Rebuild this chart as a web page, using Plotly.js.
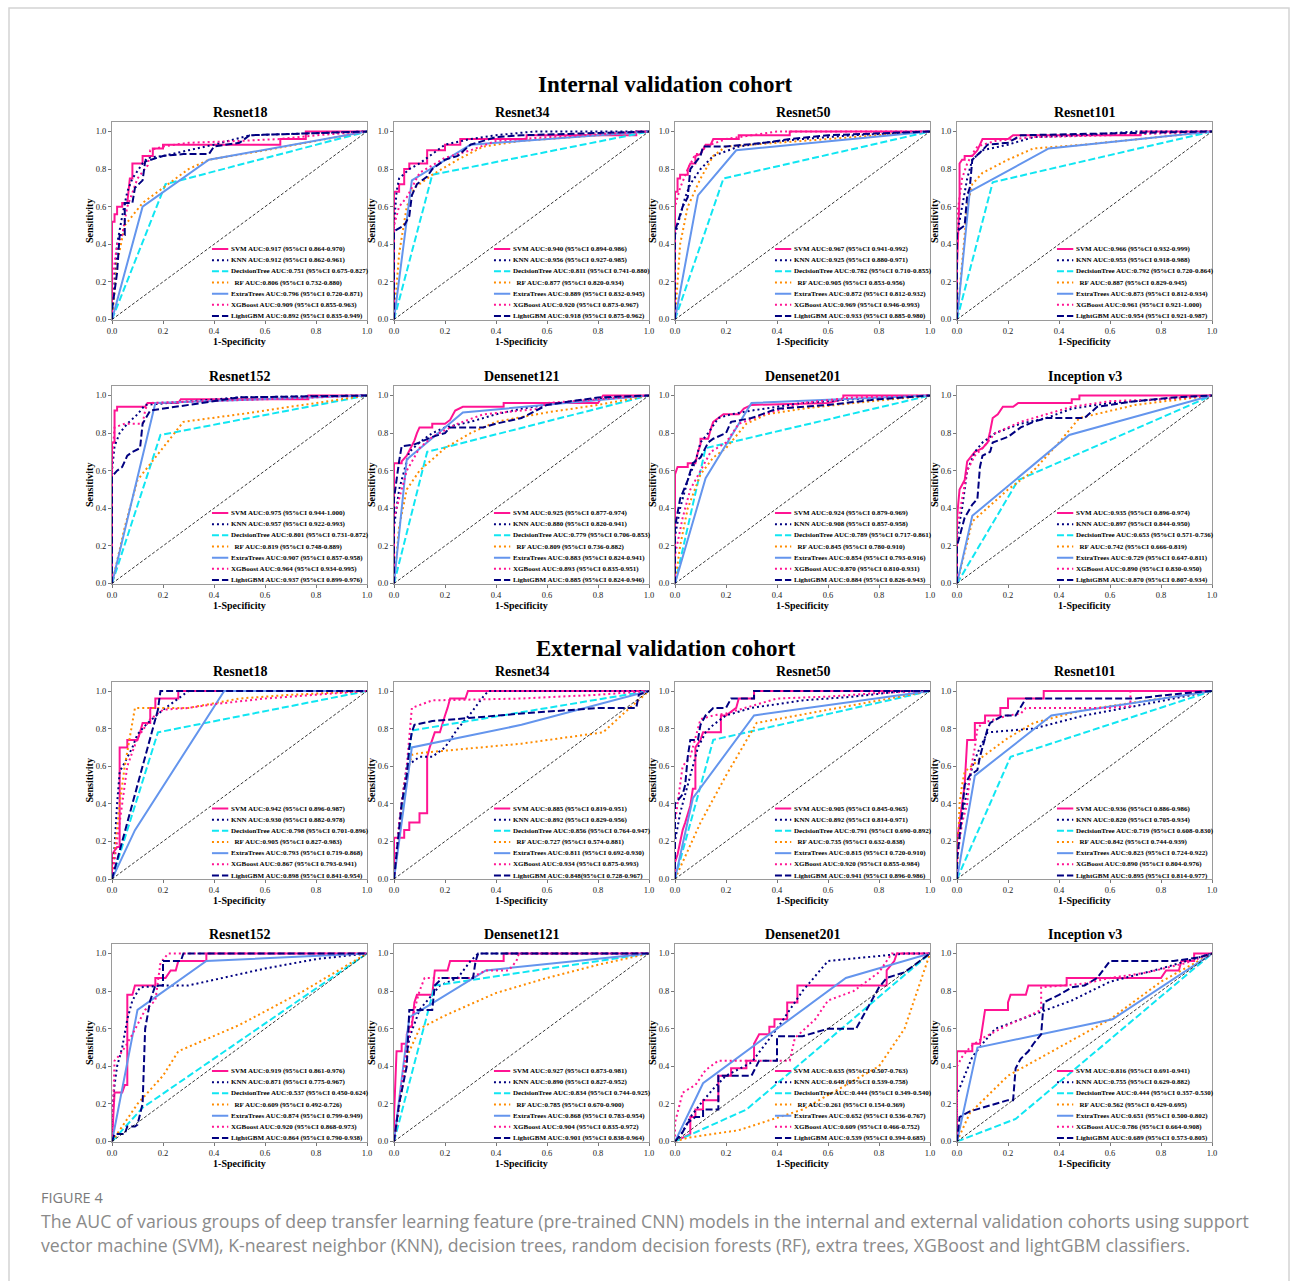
<!DOCTYPE html>
<html>
<head>
<meta charset="utf-8">
<script src="https://cdn.plot.ly/plotly-3.0.1.min.js"></script>
<style>html,body{margin:0;padding:0;background:#fff;}#chart{width:1295px;height:1281px;}</style>
</head>
<body>
<div id="chart"></div>
<script>
// ---------------- DATA ----------------
const CLASSIFIERS = ['SVM', 'KNN', 'DecisionTree', 'RF', 'ExtraTrees', 'XGBoost', 'LightGBM'];
const MODELS = ['Resnet18', 'Resnet34', 'Resnet50', 'Resnet101', 'Resnet152', 'Densenet121', 'Densenet201', 'Inception v3'];
const COHORTS = ['Internal validation cohort', 'External validation cohort'];
const TICKS = [0, 0.2, 0.4, 0.6, 0.8, 1.0];
const DIAG = [0, 1];

// ROC points [1-specificity, sensitivity], one list per classifier (order of CLASSIFIERS)
const IN_RESNET18 = [
  [[0,0],[0,0.52],[0.01,0.52],[0.01,0.56],[0.02,0.56],[0.02,0.6],[0.04,0.6],[0.04,0.62],[0.06,0.62],[0.07,0.75],[0.08,0.75],[0.08,0.83],[0.12,0.83],[0.12,0.87],[0.16,0.87],[0.16,0.91],[0.2,0.91],[0.2,0.93],[0.66,0.93],[0.66,0.96],[0.76,0.96],[0.76,1],[1,1]],
  [[0,0],[0.02,0.4],[0.04,0.55],[0.06,0.68],[0.08,0.75],[0.12,0.83],[0.14,0.86],[0.2,0.87],[0.3,0.9],[0.4,0.93],[0.54,0.98],[0.76,0.99],[1,1]],
  [[0,0],[0.21,0.72],[1,1]],
  [[0,0],[0.02,0.3],[0.05,0.5],[0.12,0.62],[0.2,0.7],[0.3,0.8],[0.38,0.85],[0.6,0.9],[1,1]],
  [[0,0],[0.12,0.6],[0.38,0.85],[1,1]],
  [[0,0],[0,0.2],[0.02,0.4],[0.04,0.45],[0.06,0.6],[0.1,0.75],[0.14,0.82],[0.15,0.9],[0.2,0.92],[0.3,0.94],[0.5,0.95],[0.66,0.96],[0.8,0.98],[1,1]],
  [[0,0],[0,0.05],[0.02,0.25],[0.03,0.45],[0.05,0.45],[0.05,0.62],[0.08,0.62],[0.09,0.7],[0.12,0.74],[0.13,0.84],[0.2,0.87],[0.28,0.88],[0.38,0.88],[0.4,0.92],[0.5,0.94],[0.54,0.98],[1,1]]
];
const IN_RESNET34 = [
  [[0,0],[0,0.68],[0.02,0.68],[0.02,0.72],[0.04,0.72],[0.04,0.8],[0.06,0.8],[0.06,0.83],[0.13,0.83],[0.13,0.9],[0.2,0.9],[0.2,0.93],[0.26,0.93],[0.26,0.96],[0.52,0.96],[0.52,0.98],[0.95,0.98],[0.95,1],[1,1]],
  [[0,0],[0,0.5],[0.01,0.68],[0.02,0.75],[0.06,0.8],[0.1,0.83],[0.15,0.88],[0.2,0.93],[0.3,0.96],[0.4,0.98],[0.55,1],[1,1]],
  [[0,0],[0.15,0.77],[1,1]],
  [[0,0],[0.02,0.35],[0.05,0.6],[0.08,0.7],[0.15,0.77],[0.25,0.85],[0.35,0.92],[0.5,0.95],[1,1]],
  [[0,0],[0.07,0.74],[0.3,0.93],[1,1]],
  [[0,0],[0,0.5],[0.02,0.6],[0.05,0.65],[0.07,0.7],[0.1,0.78],[0.15,0.82],[0.2,0.86],[0.3,0.9],[0.4,0.95],[0.6,0.97],[1,1]],
  [[0,0],[0,0.47],[0.04,0.5],[0.06,0.55],[0.07,0.66],[0.09,0.72],[0.13,0.76],[0.15,0.8],[0.2,0.85],[0.25,0.87],[0.3,0.93],[0.4,0.97],[0.5,0.98],[1,1]]
];
const IN_RESNET50 = [
  [[0,0],[0,0.68],[0.01,0.68],[0.01,0.75],[0.02,0.75],[0.02,0.77],[0.05,0.77],[0.05,0.8],[0.06,0.83],[0.08,0.83],[0.08,0.87],[0.1,0.88],[0.12,0.93],[0.14,0.93],[0.15,0.96],[0.25,0.96],[0.25,0.98],[0.45,0.98],[0.45,1],[1,1]],
  [[0,0],[0,0.45],[0.02,0.55],[0.04,0.65],[0.06,0.72],[0.1,0.8],[0.15,0.87],[0.25,0.92],[0.35,0.94],[0.5,0.96],[0.7,0.98],[1,1]],
  [[0,0],[0.19,0.75],[1,1]],
  [[0,0],[0.02,0.4],[0.05,0.6],[0.1,0.75],[0.15,0.87],[0.2,0.92],[0.3,0.93],[0.5,0.95],[1,1]],
  [[0,0],[0.09,0.66],[0.24,0.9],[1,1]],
  [[0,0],[0,0.6],[0.02,0.7],[0.05,0.8],[0.08,0.88],[0.1,0.88],[0.12,0.92],[0.2,0.96],[0.3,0.98],[0.4,1],[1,1]],
  [[0,0],[0,0.47],[0.03,0.6],[0.05,0.65],[0.06,0.8],[0.1,0.87],[0.11,0.92],[0.2,0.92],[0.35,0.94],[0.45,0.96],[0.6,0.98],[1,1]]
];
const IN_RESNET101 = [
  [[0,0],[0,0.28],[0.01,0.66],[0.01,0.83],[0.02,0.85],[0.03,0.85],[0.03,0.87],[0.06,0.87],[0.08,0.9],[0.09,0.93],[0.1,0.96],[0.2,0.96],[0.22,0.98],[0.72,0.98],[0.72,1],[1,1]],
  [[0,0],[0,0.45],[0.02,0.6],[0.04,0.75],[0.06,0.85],[0.1,0.9],[0.2,0.93],[0.3,0.97],[0.5,0.98],[0.7,1],[1,1]],
  [[0,0],[0.14,0.73],[1,1]],
  [[0,0],[0.02,0.3],[0.04,0.6],[0.06,0.72],[0.1,0.78],[0.2,0.85],[0.3,0.91],[0.5,0.93],[1,1]],
  [[0,0],[0.05,0.68],[0.36,0.91],[1,1]],
  [[0,0],[0,0.55],[0.02,0.75],[0.04,0.83],[0.06,0.88],[0.08,0.92],[0.15,0.95],[0.3,0.97],[0.6,0.98],[1,1]],
  [[0,0],[0,0.47],[0.03,0.5],[0.04,0.66],[0.05,0.7],[0.06,0.85],[0.1,0.9],[0.12,0.93],[0.2,0.94],[0.25,0.98],[0.6,0.99],[0.9,1],[1,1]]
];
const IN_RESNET152 = [
  [[0,0],[0,0.75],[0.01,0.75],[0.01,0.92],[0.02,0.92],[0.02,0.94],[0.13,0.94],[0.14,0.96],[0.26,0.96],[0.27,0.98],[0.77,0.98],[0.77,1],[1,1]],
  [[0,0],[0,0.6],[0.01,0.73],[0.03,0.8],[0.06,0.85],[0.1,0.9],[0.13,0.95],[0.3,0.97],[0.5,0.99],[1,1]],
  [[0,0],[0.19,0.79],[1,1]],
  [[0,0],[0.05,0.3],[0.1,0.55],[0.2,0.72],[0.28,0.86],[0.5,0.9],[0.8,0.96],[1,1]],
  [[0,0],[0.17,0.96],[1,1]],
  [[0,0],[0,0.65],[0.01,0.83],[0.05,0.85],[0.12,0.85],[0.13,0.92],[0.14,0.96],[0.4,0.97],[0.6,0.98],[1,1]],
  [[0,0],[0,0.57],[0.02,0.6],[0.04,0.62],[0.06,0.68],[0.08,0.7],[0.11,0.72],[0.12,0.85],[0.15,0.92],[0.2,0.93],[0.3,0.95],[0.5,0.99],[1,1]]
];
const IN_DENSENET121 = [
  [[0,0],[0,0.64],[0.03,0.64],[0.03,0.65],[0.05,0.68],[0.07,0.73],[0.08,0.76],[0.09,0.8],[0.1,0.83],[0.15,0.83],[0.15,0.85],[0.2,0.85],[0.22,0.87],[0.24,0.92],[0.27,0.94],[0.43,0.94],[0.43,0.96],[0.8,0.96],[0.82,1],[1,1]],
  [[0,0],[0,0.3],[0.02,0.5],[0.04,0.6],[0.06,0.7],[0.1,0.75],[0.15,0.8],[0.2,0.83],[0.3,0.86],[0.4,0.9],[0.5,0.93],[0.7,0.97],[1,1]],
  [[0,0],[0.13,0.7],[1,1]],
  [[0,0],[0.02,0.3],[0.05,0.5],[0.1,0.6],[0.2,0.72],[0.3,0.8],[0.4,0.86],[0.6,0.91],[0.8,0.95],[1,1]],
  [[0,0],[0.05,0.66],[0.27,0.91],[1,1]],
  [[0,0],[0,0.35],[0.03,0.5],[0.05,0.6],[0.1,0.72],[0.15,0.78],[0.25,0.85],[0.35,0.9],[0.5,0.92],[0.57,0.93],[0.6,0.96],[0.8,0.98],[1,1]],
  [[0,0],[0,0.45],[0.02,0.65],[0.03,0.73],[0.08,0.74],[0.1,0.75],[0.15,0.78],[0.2,0.8],[0.22,0.83],[0.35,0.83],[0.4,0.85],[0.5,0.88],[0.6,0.95],[0.8,0.99],[1,1]]
];
const IN_DENSENET201 = [
  [[0,0],[0,0.58],[0.01,0.62],[0.05,0.62],[0.05,0.64],[0.08,0.64],[0.09,0.7],[0.1,0.74],[0.1,0.77],[0.13,0.77],[0.14,0.82],[0.15,0.86],[0.17,0.88],[0.19,0.9],[0.25,0.9],[0.27,0.93],[0.3,0.95],[0.6,0.96],[0.66,0.98],[0.66,1],[1,1]],
  [[0,0],[0,0.25],[0.02,0.4],[0.05,0.55],[0.08,0.65],[0.1,0.75],[0.13,0.8],[0.17,0.88],[0.22,0.9],[0.3,0.92],[0.5,0.96],[0.7,0.98],[1,1]],
  [[0,0],[0.12,0.72],[1,1]],
  [[0,0],[0.02,0.2],[0.05,0.4],[0.1,0.58],[0.15,0.67],[0.2,0.72],[0.28,0.85],[0.36,0.9],[0.5,0.93],[0.7,0.96],[1,1]],
  [[0,0],[0.12,0.56],[0.3,0.96],[1,1]],
  [[0,0],[0,0.15],[0.03,0.35],[0.06,0.5],[0.1,0.6],[0.14,0.7],[0.2,0.75],[0.25,0.85],[0.35,0.9],[0.5,0.96],[0.7,0.99],[1,1]],
  [[0,0],[0,0.3],[0.02,0.45],[0.05,0.55],[0.07,0.64],[0.1,0.67],[0.13,0.75],[0.15,0.77],[0.2,0.8],[0.22,0.86],[0.3,0.88],[0.4,0.93],[0.6,0.95],[0.8,0.98],[1,1]]
];
const IN_INCEPTIONV3 = [
  [[0,0],[0,0.35],[0.01,0.5],[0.03,0.55],[0.04,0.65],[0.06,0.68],[0.07,0.7],[0.1,0.72],[0.12,0.75],[0.13,0.81],[0.14,0.88],[0.16,0.9],[0.18,0.94],[0.22,0.94],[0.24,0.96],[0.45,0.96],[0.45,0.98],[0.48,0.98],[0.48,1],[1,1]],
  [[0,0],[0,0.25],[0.02,0.4],[0.04,0.6],[0.07,0.7],[0.1,0.75],[0.15,0.8],[0.25,0.85],[0.35,0.88],[0.45,0.93],[0.6,0.96],[0.8,0.98],[1,1]],
  [[0,0],[0.24,0.55],[1,1]],
  [[0,0],[0.06,0.33],[0.2,0.5],[0.3,0.6],[0.4,0.75],[0.48,0.88],[0.7,0.95],[1,1]],
  [[0,0],[0.06,0.36],[0.44,0.79],[1,1]],
  [[0,0],[0,0.3],[0.02,0.45],[0.04,0.6],[0.07,0.68],[0.1,0.72],[0.15,0.8],[0.25,0.86],[0.35,0.9],[0.45,0.94],[0.6,0.97],[0.8,0.98],[1,1]],
  [[0,0],[0,0.2],[0.03,0.35],[0.06,0.42],[0.08,0.45],[0.09,0.62],[0.1,0.68],[0.13,0.7],[0.14,0.75],[0.2,0.78],[0.25,0.83],[0.3,0.86],[0.35,0.88],[0.5,0.88],[0.55,0.94],[0.7,0.97],[0.85,0.99],[1,1]]
];
const EX_RESNET18 = [
  [[0,0],[0,0.13],[0.02,0.17],[0.03,0.17],[0.03,0.7],[0.06,0.7],[0.06,0.74],[0.1,0.74],[0.11,0.78],[0.12,0.83],[0.15,0.83],[0.15,0.91],[0.17,0.91],[0.17,0.96],[0.26,0.96],[0.26,1],[1,1]],
  [[0,0],[0.01,0.17],[0.02,0.4],[0.03,0.57],[0.05,0.62],[0.08,0.7],[0.1,0.77],[0.14,0.83],[0.2,0.9],[0.3,1],[1,1]],
  [[0,0],[0.18,0.78],[1,1]],
  [[0,0],[0.03,0.4],[0.05,0.6],[0.09,0.91],[0.3,0.91],[0.5,0.96],[0.7,0.98],[1,1]],
  [[0,0],[0.09,0.26],[0.44,1],[1,1]],
  [[0,0],[0.02,0.2],[0.04,0.4],[0.06,0.6],[0.1,0.75],[0.15,0.85],[0.2,0.9],[0.3,0.91],[0.4,0.93],[0.6,0.96],[0.8,0.98],[1,1]],
  [[0,0],[0.04,0.2],[0.08,0.4],[0.12,0.6],[0.16,0.8],[0.18,0.9],[0.19,1],[1,1]]
];
const EX_RESNET34 = [
  [[0,0],[0,0.22],[0.04,0.22],[0.04,0.26],[0.06,0.26],[0.06,0.3],[0.1,0.3],[0.1,0.35],[0.13,0.35],[0.13,0.65],[0.14,0.7],[0.15,0.74],[0.16,0.78],[0.18,0.78],[0.19,0.83],[0.2,0.87],[0.21,0.91],[0.22,0.96],[0.28,0.96],[0.29,1],[1,1]],
  [[0,0],[0.03,0.4],[0.05,0.6],[0.1,0.65],[0.15,0.65],[0.2,0.7],[0.25,0.8],[0.3,0.88],[0.35,0.97],[0.37,1],[1,1]],
  [[0,0],[0.07,0.79],[1,1]],
  [[0,0],[0.04,0.5],[0.07,0.66],[0.1,0.67],[0.5,0.72],[0.82,0.78],[0.9,0.88],[1,1]],
  [[0,0],[0.07,0.7],[0.5,0.82],[0.95,0.98],[1,1]],
  [[0,0],[0.02,0.3],[0.05,0.6],[0.07,0.91],[0.15,0.95],[0.5,0.96],[0.8,0.98],[1,1]],
  [[0,0],[0.03,0.4],[0.05,0.55],[0.06,0.7],[0.07,0.78],[0.08,0.82],[0.15,0.84],[0.5,0.88],[0.8,0.91],[0.95,0.91],[0.96,0.98],[1,1]]
];
const EX_RESNET50 = [
  [[0,0],[0,0.09],[0.01,0.13],[0.02,0.2],[0.03,0.26],[0.04,0.3],[0.05,0.35],[0.06,0.39],[0.07,0.48],[0.08,0.48],[0.08,0.7],[0.1,0.74],[0.11,0.78],[0.18,0.78],[0.18,0.87],[0.2,0.87],[0.24,0.91],[0.25,0.96],[0.31,0.96],[0.31,1],[1,1]],
  [[0,0],[0,0.2],[0.02,0.35],[0.04,0.45],[0.06,0.55],[0.09,0.7],[0.12,0.78],[0.15,0.82],[0.2,0.87],[0.3,0.91],[0.4,0.93],[0.5,0.95],[0.7,0.97],[0.9,1],[1,1]],
  [[0,0],[0.15,0.74],[1,1]],
  [[0,0],[0.1,0.3],[0.2,0.55],[0.32,0.83],[0.6,0.9],[1,1]],
  [[0,0],[0.07,0.43],[0.31,0.87],[1,1]],
  [[0,0],[0,0.3],[0.02,0.5],[0.03,0.6],[0.06,0.65],[0.08,0.75],[0.1,0.85],[0.15,0.87],[0.2,0.88],[0.3,0.92],[0.4,0.96],[0.6,0.97],[0.8,0.99],[1,1]],
  [[0,0],[0,0.4],[0.03,0.45],[0.04,0.5],[0.05,0.65],[0.06,0.74],[0.09,0.74],[0.1,0.82],[0.12,0.87],[0.15,0.91],[0.2,0.91],[0.22,0.96],[0.31,0.96],[0.31,1],[1,1]]
];
const EX_RESNET101 = [
  [[0,0],[0,0.2],[0.02,0.4],[0.03,0.5],[0.04,0.74],[0.07,0.74],[0.07,0.83],[0.11,0.83],[0.11,0.87],[0.17,0.87],[0.17,0.91],[0.2,0.91],[0.2,0.96],[0.34,0.96],[0.34,1],[1,1]],
  [[0,0],[0,0.2],[0.03,0.4],[0.06,0.6],[0.09,0.7],[0.12,0.78],[0.3,0.8],[0.5,0.87],[0.7,0.92],[0.85,0.96],[1,1]],
  [[0,0],[0.21,0.65],[1,1]],
  [[0,0],[0.01,0.4],[0.02,0.5],[0.03,0.57],[0.1,0.65],[0.2,0.75],[0.3,0.83],[0.5,0.9],[0.8,0.96],[1,1]],
  [[0,0],[0.07,0.55],[0.37,0.87],[1,1]],
  [[0,0],[0,0.1],[0.02,0.3],[0.04,0.4],[0.05,0.55],[0.07,0.7],[0.08,0.8],[0.1,0.83],[0.15,0.85],[0.2,0.87],[0.25,0.88],[0.27,0.91],[0.6,0.91],[0.68,0.92],[0.68,1],[1,1]],
  [[0,0],[0,0.1],[0.02,0.35],[0.03,0.5],[0.05,0.55],[0.08,0.58],[0.09,0.65],[0.1,0.7],[0.12,0.8],[0.13,0.83],[0.18,0.87],[0.23,0.87],[0.27,0.96],[0.7,0.96],[0.9,0.99],[1,1]]
];
const EX_RESNET152 = [
  [[0,0],[0.01,0.26],[0.04,0.26],[0.05,0.3],[0.06,0.3],[0.06,0.78],[0.08,0.78],[0.09,0.83],[0.17,0.83],[0.17,0.87],[0.21,0.87],[0.23,0.91],[0.25,0.91],[0.26,0.96],[0.37,0.96],[0.37,1],[1,1]],
  [[0,0],[0,0.15],[0.01,0.3],[0.02,0.4],[0.04,0.5],[0.06,0.65],[0.08,0.75],[0.11,0.82],[0.2,0.83],[0.3,0.83],[0.4,0.86],[0.6,0.92],[0.8,0.97],[1,1]],
  [[0,0],[0.12,0.18],[1,1]],
  [[0,0],[0.1,0.2],[0.2,0.35],[0.26,0.48],[0.5,0.62],[0.75,0.8],[1,1]],
  [[0,0],[0.1,0.7],[0.37,0.96],[1,1]],
  [[0,0],[0.01,0.43],[0.03,0.46],[0.05,0.5],[0.08,0.57],[0.1,0.62],[0.13,0.7],[0.17,0.75],[0.19,0.95],[0.22,1],[1,1]],
  [[0,0],[0.01,0.04],[0.05,0.04],[0.06,0.08],[0.09,0.08],[0.1,0.09],[0.12,0.2],[0.13,0.6],[0.15,0.75],[0.17,0.83],[0.2,0.83],[0.2,0.96],[0.27,0.96],[0.28,1],[1,1]]
];
const EX_DENSENET121 = [
  [[0,0],[0,0.13],[0.01,0.48],[0.03,0.48],[0.03,0.52],[0.05,0.52],[0.05,0.57],[0.06,0.61],[0.07,0.61],[0.08,0.74],[0.09,0.78],[0.15,0.78],[0.16,0.91],[0.21,0.91],[0.22,0.96],[0.43,0.96],[0.43,1],[1,1]],
  [[0,0],[0.02,0.2],[0.04,0.35],[0.06,0.55],[0.1,0.7],[0.15,0.78],[0.18,0.83],[0.25,0.87],[0.3,0.96],[0.33,1],[1,1]],
  [[0,0],[0.16,0.83],[1,1]],
  [[0,0],[0.05,0.45],[0.1,0.6],[0.2,0.67],[0.4,0.79],[0.6,0.87],[0.8,0.94],[1,1]],
  [[0,0],[0.06,0.66],[0.36,0.91],[1,1]],
  [[0,0],[0.02,0.2],[0.05,0.5],[0.08,0.7],[0.1,0.8],[0.12,0.87],[0.3,0.87],[0.36,0.91],[0.45,0.91],[0.48,0.96],[0.49,1],[1,1]],
  [[0,0],[0.02,0.2],[0.05,0.4],[0.06,0.7],[0.15,0.7],[0.16,0.83],[0.19,0.87],[0.31,0.87],[0.32,0.96],[0.33,1],[1,1]]
];
const EX_DENSENET201 = [
  [[0,0],[0.06,0.04],[0.06,0.13],[0.08,0.13],[0.08,0.17],[0.11,0.17],[0.11,0.22],[0.17,0.22],[0.17,0.35],[0.22,0.35],[0.22,0.39],[0.28,0.39],[0.28,0.43],[0.31,0.43],[0.31,0.52],[0.33,0.57],[0.37,0.57],[0.37,0.61],[0.39,0.61],[0.39,0.65],[0.44,0.65],[0.44,0.74],[0.48,0.74],[0.48,0.83],[0.83,0.83],[0.83,0.91],[0.86,0.96],[0.87,1],[1,1]],
  [[0,0],[0.03,0.05],[0.06,0.13],[0.1,0.2],[0.15,0.28],[0.2,0.35],[0.3,0.42],[0.4,0.6],[0.5,0.8],[0.6,0.96],[0.9,1],[1,1]],
  [[0,0],[0.28,0.17],[1,1]],
  [[0,0],[0.05,0.02],[0.25,0.06],[0.5,0.17],[0.8,0.4],[0.9,0.6],[0.95,0.8],[1,1]],
  [[0,0],[0.11,0.31],[0.67,0.87],[1,1]],
  [[0,0],[0,0.1],[0.03,0.26],[0.08,0.3],[0.12,0.38],[0.17,0.43],[0.45,0.43],[0.47,0.55],[0.55,0.65],[0.6,0.75],[0.7,0.8],[0.8,0.9],[0.85,1],[1,1]],
  [[0,0],[0.03,0.05],[0.05,0.1],[0.08,0.13],[0.11,0.13],[0.11,0.17],[0.17,0.17],[0.17,0.35],[0.3,0.35],[0.33,0.43],[0.4,0.43],[0.4,0.56],[0.5,0.56],[0.6,0.6],[0.71,0.6],[0.75,0.7],[0.8,0.82],[0.83,0.87],[0.9,0.9],[1,1]]
];
const EX_INCEPTIONV3 = [
  [[0,0],[0,0.48],[0.06,0.48],[0.06,0.52],[0.09,0.52],[0.1,0.6],[0.11,0.7],[0.2,0.7],[0.2,0.74],[0.21,0.78],[0.27,0.78],[0.28,0.83],[0.43,0.83],[0.43,0.87],[0.8,0.87],[0.82,0.91],[0.87,0.91],[0.88,0.96],[0.93,0.96],[0.93,1],[1,1]],
  [[0,0],[0,0.25],[0.03,0.35],[0.06,0.45],[0.1,0.52],[0.15,0.6],[0.25,0.65],[0.35,0.7],[0.45,0.75],[0.6,0.85],[0.8,0.92],[1,1]],
  [[0,0],[0.23,0.12],[1,1]],
  [[0,0],[0.05,0.15],[0.2,0.35],[0.4,0.5],[0.6,0.65],[0.8,0.85],[1,1]],
  [[0,0],[0.08,0.5],[0.61,0.65],[1,1]],
  [[0,0],[0,0.4],[0.02,0.45],[0.05,0.5],[0.1,0.55],[0.2,0.62],[0.3,0.68],[0.33,0.7],[0.33,0.82],[0.5,0.84],[0.6,0.87],[0.75,0.9],[0.9,0.95],[1,1]],
  [[0,0],[0.01,0.13],[0.05,0.16],[0.1,0.18],[0.2,0.22],[0.22,0.22],[0.23,0.39],[0.25,0.44],[0.28,0.48],[0.3,0.52],[0.33,0.57],[0.34,0.74],[0.4,0.78],[0.45,0.82],[0.5,0.83],[0.55,0.87],[0.6,0.96],[0.85,0.96],[0.95,0.98],[1,1]]
];

// AUC (95% CI) legend texts, one per classifier
const IN_RESNET18_AUC = ['0.917 (95%CI 0.864-0.970)','0.912 (95%CI 0.862-0.961)','0.751 (95%CI 0.675-0.827)','0.806 (95%CI 0.732-0.880)','0.796 (95%CI 0.720-0.871)','0.909 (95%CI 0.855-0.963)','0.892 (95%CI 0.835-0.949)'];
const IN_RESNET34_AUC = ['0.940 (95%CI 0.894-0.986)','0.956 (95%CI 0.927-0.985)','0.811 (95%CI 0.741-0.880)','0.877 (95%CI 0.820-0.934)','0.889 (95%CI 0.832-0.945)','0.920 (95%CI 0.873-0.967)','0.918 (95%CI 0.875-0.962)'];
const IN_RESNET50_AUC = ['0.967 (95%CI 0.941-0.992)','0.925 (95%CI 0.880-0.971)','0.782 (95%CI 0.710-0.855)','0.905 (95%CI 0.853-0.956)','0.872 (95%CI 0.812-0.932)','0.969 (95%CI 0.946-0.993)','0.933 (95%CI 0.885-0.980)'];
const IN_RESNET101_AUC = ['0.966 (95%CI 0.932-0.999)','0.953 (95%CI 0.918-0.988)','0.792 (95%CI 0.720-0.864)','0.887 (95%CI 0.829-0.945)','0.873 (95%CI 0.812-0.934)','0.961 (95%CI 0.921-1.000)','0.954 (95%CI 0.921-0.987)'];
const IN_RESNET152_AUC = ['0.975 (95%CI 0.944-1.000)','0.957 (95%CI 0.922-0.993)','0.801 (95%CI 0.731-0.872)','0.819 (95%CI 0.748-0.889)','0.907 (95%CI 0.857-0.958)','0.964 (95%CI 0.934-0.995)','0.937 (95%CI 0.899-0.976)'];
const IN_DENSENET121_AUC = ['0.925 (95%CI 0.877-0.974)','0.880 (95%CI 0.820-0.941)','0.779 (95%CI 0.706-0.853)','0.809 (95%CI 0.736-0.882)','0.883 (95%CI 0.824-0.941)','0.893 (95%CI 0.835-0.951)','0.885 (95%CI 0.824-0.946)'];
const IN_DENSENET201_AUC = ['0.924 (95%CI 0.879-0.969)','0.908 (95%CI 0.857-0.958)','0.789 (95%CI 0.717-0.861)','0.845 (95%CI 0.780-0.910)','0.854 (95%CI 0.793-0.916)','0.870 (95%CI 0.810-0.931)','0.884 (95%CI 0.826-0.943)'];
const IN_INCEPTIONV3_AUC = ['0.935 (95%CI 0.896-0.974)','0.897 (95%CI 0.844-0.950)','0.653 (95%CI 0.571-0.736)','0.742 (95%CI 0.666-0.819)','0.729 (95%CI 0.647-0.811)','0.890 (95%CI 0.830-0.950)','0.870 (95%CI 0.807-0.934)'];
const EX_RESNET18_AUC = ['0.942 (95%CI 0.896-0.987)','0.930 (95%CI 0.882-0.978)','0.798 (95%CI 0.701-0.896)','0.905 (95%CI 0.827-0.983)','0.793 (95%CI 0.719-0.868)','0.867 (95%CI 0.793-0.941)','0.898 (95%CI 0.841-0.954)'];
const EX_RESNET34_AUC = ['0.885 (95%CI 0.819-0.951)','0.892 (95%CI 0.829-0.956)','0.856 (95%CI 0.764-0.947)','0.727 (95%CI 0.574-0.881)','0.811 (95%CI 0.692-0.930)','0.934 (95%CI 0.875-0.993)','0.848(95%CI 0.728-0.967)'];
const EX_RESNET50_AUC = ['0.905 (95%CI 0.845-0.965)','0.892 (95%CI 0.814-0.971)','0.791 (95%CI 0.690-0.892)','0.735 (95%CI 0.632-0.838)','0.815 (95%CI 0.720-0.910)','0.920 (95%CI 0.855-0.984)','0.941 (95%CI 0.896-0.986)'];
const EX_RESNET101_AUC = ['0.936 (95%CI 0.886-0.986)','0.820 (95%CI 0.705-0.934)','0.719 (95%CI 0.608-0.830)','0.842 (95%CI 0.744-0.939)','0.823 (95%CI 0.724-0.922)','0.890 (95%CI 0.804-0.976)','0.895 (95%CI 0.814-0.977)'];
const EX_RESNET152_AUC = ['0.919 (95%CI 0.861-0.976)','0.871 (95%CI 0.775-0.967)','0.537 (95%CI 0.450-0.624)','0.609 (95%CI 0.492-0.726)','0.874 (95%CI 0.799-0.949)','0.920 (95%CI 0.868-0.973)','0.864 (95%CI 0.790-0.938)'];
const EX_DENSENET121_AUC = ['0.927 (95%CI 0.873-0.981)','0.890 (95%CI 0.827-0.952)','0.834 (95%CI 0.744-0.925)','0.785 (95%CI 0.670-0.900)','0.868 (95%CI 0.783-0.954)','0.904 (95%CI 0.835-0.972)','0.901 (95%CI 0.838-0.964)'];
const EX_DENSENET201_AUC = ['0.635 (95%CI 0.507-0.763)','0.648 (95%CI 0.539-0.758)','0.444 (95%CI 0.349-0.540)','0.261 (95%CI 0.154-0.369)','0.652 (95%CI 0.536-0.767)','0.609 (95%CI 0.466-0.752)','0.539 (95%CI 0.394-0.685)'];
const EX_INCEPTIONV3_AUC = ['0.816 (95%CI 0.691-0.941)','0.755 (95%CI 0.629-0.882)','0.444 (95%CI 0.357-0.530)','0.562 (95%CI 0.429-0.695)','0.651 (95%CI 0.500-0.802)','0.786 (95%CI 0.664-0.908)','0.689 (95%CI 0.573-0.805)'];

const CAPTION_LABEL = 'FIGURE 4';
const CAPTION_LINES = [
  'The AUC of various groups of deep transfer learning feature (pre-trained CNN) models in the internal and external validation cohorts using support',
  'vector machine (SVM), K-nearest neighbor (KNN), decision trees, random decision forests (RF), extra trees, XGBoost and lightGBM classifiers.'
];

// ---------------- BUILD ----------------
const PANELS = [IN_RESNET18, IN_RESNET34, IN_RESNET50, IN_RESNET101, IN_RESNET152, IN_DENSENET121, IN_DENSENET201, IN_INCEPTIONV3,
                EX_RESNET18, EX_RESNET34, EX_RESNET50, EX_RESNET101, EX_RESNET152, EX_DENSENET121, EX_DENSENET201, EX_INCEPTIONV3];
const PANEL_AUC = [IN_RESNET18_AUC, IN_RESNET34_AUC, IN_RESNET50_AUC, IN_RESNET101_AUC, IN_RESNET152_AUC, IN_DENSENET121_AUC, IN_DENSENET201_AUC, IN_INCEPTIONV3_AUC,
                   EX_RESNET18_AUC, EX_RESNET34_AUC, EX_RESNET50_AUC, EX_RESNET101_AUC, EX_RESNET152_AUC, EX_DENSENET121_AUC, EX_DENSENET201_AUC, EX_INCEPTIONV3_AUC];

const W = 1295, H = 1281;
const SERIF = 'Liberation Serif, Times New Roman, serif';
const SANS = 'Open Sans, Noto Sans, sans-serif';
const STYLES = [
  {color: '#FF1493', dash: 'solid'},
  {color: '#000080', dash: '2px,3px'},
  {color: '#10E6F2', dash: '7px,3px'},
  {color: '#FF8C00', dash: '2px,3px'},
  {color: '#6495ED', dash: 'solid'},
  {color: '#FF1493', dash: '2px,3px'},
  {color: '#000080', dash: '7px,3px'}
];
const COL_LEFT = [112, 394, 675, 957];
const AX_W = 255;
const ROW_Y0 = [319.5, 583.5, 879, 1141.5];
const UNIT_H = 188;
const COHORT_Y = [85, 648];

const px = x => x / W;
const py = y => 1 - y / H;

const traces = [];
const annotations = [];
const shapes = [];
const layout = {
  width: W, height: H,
  margin: {l: 0, r: 0, t: 0, b: 0},
  paper_bgcolor: '#ffffff', plot_bgcolor: '#ffffff',
  showlegend: false,
  font: {family: SERIF, color: '#000'}
};

PANELS.forEach((curves, s) => {
  const r = Math.floor(s / 4), c = s % 4;
  const id = s === 0 ? '' : String(s + 1);
  const xa = 'x' + id, ya = 'y' + id;
  const left = COL_LEFT[c], y0 = ROW_Y0[r];
  const top = y0 - UNIT_H * 1.05;

  const axisCommon = {
    showline: true, mirror: true, linecolor: '#9a9a9a', linewidth: 1,
    ticks: 'outside', ticklen: 3, tickwidth: 1, tickcolor: '#777',
    tickvals: TICKS, tickformat: '.1f',
    tickfont: {family: SERIF, size: 8.5, color: '#222'},
    showgrid: false, zeroline: false, fixedrange: true
  };
  layout['xaxis' + id] = Object.assign({}, axisCommon, {
    domain: [px(left), px(left + AX_W)], range: [0, 1], anchor: ya,
    title: {text: '<b>1-Specificity</b>', font: {family: SERIF, size: 10, color: '#000'}, standoff: 0}
  });
  layout['yaxis' + id] = Object.assign({}, axisCommon, {
    domain: [py(y0), py(top)], range: [0, 1.05], anchor: xa,
    title: {text: '<b>Sensitivity</b>', font: {family: SERIF, size: 10, color: '#000'}, standoff: 0}
  });

  curves.forEach((pts, k) => {
    traces.push({
      type: 'scatter', mode: 'lines', xaxis: xa, yaxis: ya,
      x: pts.map(p => p[0]), y: pts.map(p => p[1]),
      line: {color: STYLES[k].color, width: 2, dash: STYLES[k].dash},
      name: CLASSIFIERS[k], hoverinfo: 'skip', showlegend: false
    });
  });
  // chance diagonal
  traces.push({
    type: 'scatter', mode: 'lines', xaxis: xa, yaxis: ya,
    x: DIAG, y: DIAG, line: {color: '#000', width: 0.8, dash: '3px,2px'},
    hoverinfo: 'skip', showlegend: false
  });

  // panel title
  annotations.push({
    xref: 'paper', yref: 'paper', x: px(left + AX_W / 2), y: py(top - 10),
    text: '<b>' + MODELS[s % 8] + '</b>', showarrow: false,
    xanchor: 'center', yanchor: 'middle', font: {family: SERIF, size: 14, color: '#000'}
  });

  // in-panel legend
  PANEL_AUC[s].forEach((txt, k) => {
    const ly = 0.375 - k * 0.0594;
    shapes.push({
      type: 'line', xref: xa, yref: ya, x0: 0.392, x1: 0.456, y0: ly, y1: ly,
      line: {color: STYLES[k].color, width: 2, dash: STYLES[k].dash}
    });
    const pad = CLASSIFIERS[k] === 'RF' ? '\u00A0\u00A0' : '';
    annotations.push({
      xref: xa, yref: ya, x: 0.461, y: ly, showarrow: false,
      xanchor: 'left', yanchor: 'middle', borderpad: 0,
      text: '<b>' + pad + CLASSIFIERS[k] + ' AUC:' + txt + '</b>',
      font: {family: SERIF, size: 7, color: '#000'}
    });
  });
});

// cohort titles
COHORTS.forEach((t, i) => {
  annotations.push({
    xref: 'paper', yref: 'paper', x: px(666), y: py(COHORT_Y[i]),
    text: '<b>' + t + '</b>', showarrow: false, xanchor: 'center', yanchor: 'middle',
    font: {family: SERIF, size: 23, color: '#000'}
  });
});

// caption
annotations.push({
  xref: 'paper', yref: 'paper', x: px(39), y: py(1197), text: CAPTION_LABEL,
  showarrow: false, xanchor: 'left', yanchor: 'middle',
  font: {family: SANS, size: 14.5, color: '#7a7a7a'}
});
CAPTION_LINES.forEach((t, i) => {
  annotations.push({
    xref: 'paper', yref: 'paper', x: px(39), y: py(1221 + 24 * i), text: t,
    showarrow: false, xanchor: 'left', yanchor: 'middle',
    font: {family: SANS, size: 17.7, color: '#8a8a8a'}
  });
});

// page frame
shapes.push({
  type: 'path', xref: 'paper', yref: 'paper', layer: 'below',
  path: 'M ' + px(9) + ' ' + py(1290) + ' L ' + px(9) + ' ' + py(8) + ' L ' + px(1289) + ' ' + py(8) + ' L ' + px(1289) + ' ' + py(1290),
  line: {color: '#d4d4d4', width: 1.5}
});

layout.annotations = annotations;
layout.shapes = shapes;

Plotly.newPlot('chart', traces, layout, {staticPlot: true, displayModeBar: false});
</script>
</body>
</html>
